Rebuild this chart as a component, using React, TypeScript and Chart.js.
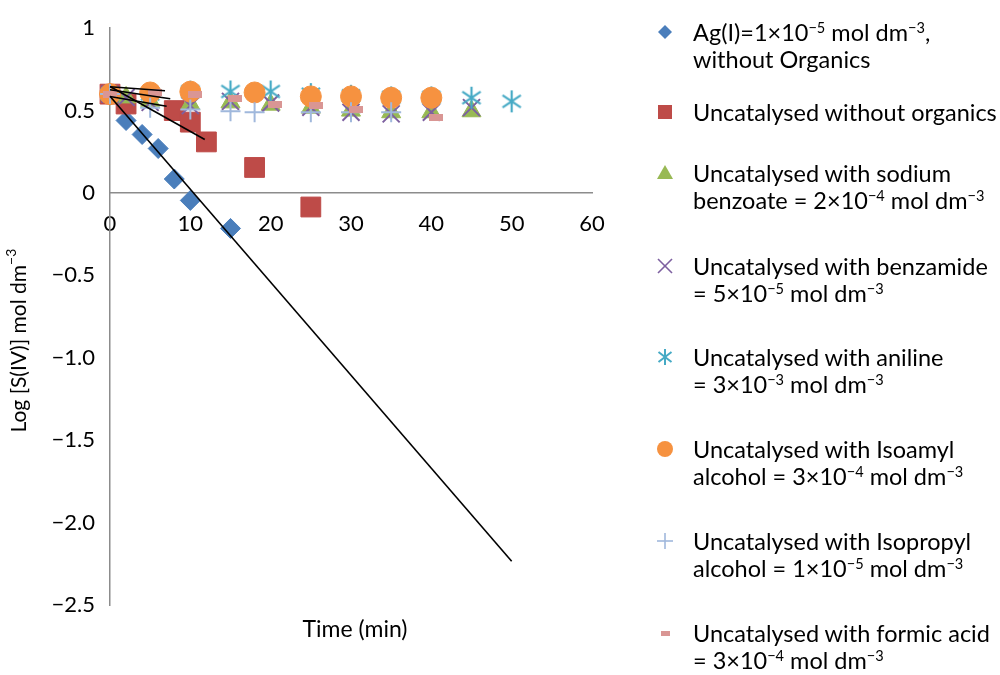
import React, { useEffect, useRef } from 'react';
import { Chart, registerables } from 'chart.js';

Chart.register(...registerables);

const FONT = 'Lato, "Open Sans", sans-serif';

// Axis ticks
const xTicks = [0, 10, 20, 30, 40, 50, 60];
const yTicks = [1, 0.5, 0, -0.5, -1, -1.5, -2, -2.5];
const yTickLabels = ['1', '0.5', '0', '−0.5', '−1.0', '−1.5', '−2.0', '−2.5'];
const xTitle = 'Time (min)';
const yTitleMain = 'Log [S(IV)] mol dm';
const yTitleSup = '−3';

// Series: Ag(I) catalysed, without organics
const agX = [0, 2, 4, 6, 8, 10, 15];
const agY = [0.6, 0.44, 0.355, 0.27, 0.085, -0.045, -0.215];
// Uncatalysed without organics
const uncX = [0, 2, 8, 10, 12, 18, 25];
const uncY = [0.6, 0.54, 0.5, 0.43, 0.31, 0.155, -0.085];
// Sodium benzoate
const sbX = [0, 2, 5, 10, 15, 20, 25, 30, 35, 40, 45];
const sbY = [0.6, 0.58, 0.56, 0.54, 0.55, 0.536, 0.518, 0.5, 0.49, 0.49, 0.496];
// Benzamide
const bzX = [0, 2, 5, 10, 15, 20, 25, 30, 35, 40, 45];
const bzY = [0.6, 0.58, 0.55, 0.53, 0.556, 0.546, 0.52, 0.49, 0.48, 0.49, 0.518];
// Aniline
const anX = [0, 5, 10, 15, 20, 25, 30, 35, 40, 45, 50];
const anY = [0.6, 0.6, 0.615, 0.616, 0.616, 0.6, 0.59, 0.58, 0.58, 0.578, 0.556];
// Isoamyl alcohol
const iaX = [0, 5, 10, 18, 25, 30, 35, 40];
const iaY = [0.6, 0.61, 0.615, 0.61, 0.586, 0.586, 0.578, 0.578];
// Isopropyl alcohol
const ipX = [0, 5, 10, 15, 18, 25, 30, 35];
const ipY = [0.6, 0.518, 0.506, 0.496, 0.49, 0.49, 0.49, 0.49];
// Formic acid
const faX = [0, 5.6, 10.6, 15.6, 20.6, 25.6, 30.6, 40.6];
const faY = [0.6, 0.61, 0.6, 0.572, 0.54, 0.53, 0.506, 0.458];

// Trend lines (start / end points)
const trendAgX = [0, 50];
const trendAgY = [0.587, -2.235];
const trendUncX = [0, 11.8];
const trendUncY = [0.646, 0.325];
const trendAX = [0, 6.85];
const trendAY = [0.645, 0.62];
const trendBX = [0, 7.5];
const trendBY = [0.627, 0.572];
const trendCX = [0, 7.05];
const trendCY = [0.586, 0.526];

const C = {
  blue: '#4A7EBB',
  red: '#BE4B48',
  green: '#98B954',
  purple: '#7D60A0',
  teal: '#46AAC5',
  orange: '#F69240',
  lightblue: '#A0B8DC',
  pink: '#D99694',
};

const TICK_SIZE = 22;
const LEGEND_SIZE = 23.5;

const pts = (xs: number[], ys: number[]) => xs.map((x, i) => ({ x, y: ys[i] }));

function makeAsterisk(color: string, size: number, lw: number) {
  const c = document.createElement('canvas');
  c.width = size;
  c.height = size;
  const g = c.getContext('2d')!;
  g.strokeStyle = color;
  g.lineWidth = lw;
  const h = size / 2;
  const r = size / 2 - 1;
  g.beginPath();
  g.moveTo(h, h - r);
  g.lineTo(h, h + r);
  const dx = r * Math.sin(Math.PI / 3.2);
  const dy = r * Math.cos(Math.PI / 3.2);
  g.moveTo(h - dx, h - dy);
  g.lineTo(h + dx, h + dy);
  g.moveTo(h + dx, h - dy);
  g.lineTo(h - dx, h + dy);
  g.stroke();
  return c;
}

function makeDash(color: string, w: number, hgt: number) {
  const c = document.createElement('canvas');
  c.width = w;
  c.height = hgt;
  const g = c.getContext('2d')!;
  g.fillStyle = color;
  g.fillRect(0, 0, w, hgt);
  return c;
}

const titlePlugin = {
  id: 'customTitles',
  afterDraw(chart: any) {
    const ctx = chart.ctx;
    const a = chart.chartArea;
    ctx.save();
    ctx.fillStyle = '#000';
    ctx.font = `23px ${FONT}`;
    ctx.textAlign = 'center';
    ctx.textBaseline = 'middle';
    ctx.fillText(xTitle, (a.left + a.right) / 2 + 4, a.bottom + 25);
    ctx.translate(19, (a.top + a.bottom) / 2 + 24);
    ctx.rotate(-Math.PI / 2);
    ctx.font = `21px ${FONT}`;
    const w1 = ctx.measureText(yTitleMain).width;
    ctx.font = `14px ${FONT}`;
    const w2 = ctx.measureText(yTitleSup).width;
    const start = -(w1 + w2) / 2;
    ctx.textAlign = 'left';
    ctx.font = `21px ${FONT}`;
    ctx.fillText(yTitleMain, start, 0);
    ctx.font = `14px ${FONT}`;
    ctx.fillText(yTitleSup, start + w1, -8);
    ctx.restore();
  },
};

const sup = (s: string) => (
  <sup style={{ fontSize: '0.62em', verticalAlign: '0.55em', lineHeight: 0 }}>{s}</sup>
);

type LegendItem = { top: number; marker: React.ReactNode; lines: React.ReactNode[] };

const S = 24;
const mk = (children: React.ReactNode) => (
  <svg width={S} height={S} viewBox="0 0 24 24">{children}</svg>
);

const legendItems: LegendItem[] = [
  {
    top: 19,
    marker: mk(<polygon points="12,5 19,12 12,19 5,12" fill={C.blue} />),
    lines: [
      <>Ag(I)=1×10{sup('−5')} mol dm{sup('−3')},</>,
      <>without Organics</>,
    ],
  },
  {
    top: 99,
    marker: mk(<rect x="5" y="5" width="14" height="14" fill={C.red} />),
    lines: [<>Uncatalysed without organics</>],
  },
  {
    top: 160,
    marker: mk(<polygon points="12,4 20,18 4,18" fill={C.green} />),
    lines: [
      <>Uncatalysed with sodium</>,
      <>benzoate = 2×10{sup('−4')} mol dm{sup('−3')}</>,
    ],
  },
  {
    top: 253,
    marker: mk(
      <g stroke={C.purple} strokeWidth="1.6">
        <line x1="5" y1="5" x2="19" y2="19" />
        <line x1="19" y1="5" x2="5" y2="19" />
      </g>
    ),
    lines: [
      <>Uncatalysed with benzamide</>,
      <>= 5×10{sup('−5')} mol dm{sup('−3')}</>,
    ],
  },
  {
    top: 344,
    marker: mk(
      <g stroke={C.teal} strokeWidth="2">
        <line x1="12" y1="4" x2="12" y2="20" />
        <line x1="5.5" y1="7" x2="18.5" y2="17" />
        <line x1="18.5" y1="7" x2="5.5" y2="17" />
      </g>
    ),
    lines: [
      <>Uncatalysed with aniline</>,
      <>= 3×10{sup('−3')} mol dm{sup('−3')}</>,
    ],
  },
  {
    top: 436,
    marker: mk(<circle cx="12" cy="12" r="8" fill={C.orange} />),
    lines: [
      <>Uncatalysed with Isoamyl</>,
      <>alcohol = 3×10{sup('−4')} mol dm{sup('−3')}</>,
    ],
  },
  {
    top: 528,
    marker: mk(
      <g stroke={C.lightblue} strokeWidth="1.6">
        <line x1="12" y1="4" x2="12" y2="20" />
        <line x1="4" y1="12" x2="20" y2="12" />
      </g>
    ),
    lines: [
      <>Uncatalysed with Isopropyl</>,
      <>alcohol = 1×10{sup('−5')} mol dm{sup('−3')}</>,
    ],
  },
  {
    top: 620,
    marker: mk(<rect x="8" y="10" width="9" height="5" fill={C.pink} />),
    lines: [
      <>Uncatalysed with formic acid</>,
      <>= 3×10{sup('−4')} mol dm{sup('−3')}</>,
    ],
  },
];

export default function App() {
  const ref = useRef<HTMLCanvasElement>(null);

  useEffect(() => {
    if (!ref.current) return;
    const asterisk = makeAsterisk(C.teal, 24, 2.2);
    const dash = makeDash(C.pink, 14, 7);

    const markerDs = (data: any, style: any, color: string, radius: number, order: number, extra: any = {}) => ({
      data,
      pointStyle: style,
      pointRadius: radius,
      backgroundColor: color,
      borderColor: color,
      pointBorderWidth: 1,
      showLine: false,
      clip: false,
      order,
      ...extra,
    });
    const trendDs = (xs: number[], ys: number[]) => ({
      data: pts(xs, ys),
      showLine: true,
      pointRadius: 0,
      borderColor: '#000',
      borderWidth: 1.6,
      clip: false,
      order: 0,
    });

    const chart = new Chart(ref.current, {
      type: 'scatter',
      data: {
        datasets: [
          markerDs(pts(agX, agY), 'rectRot', C.blue, 10, 8),
          markerDs(pts(uncX, uncY), 'rect', C.red, 14, 7),
          markerDs(pts(sbX, sbY), 'triangle', C.green, 11, 6),
          markerDs(pts(bzX, bzY), 'crossRot', C.purple, 12, 5, { pointBorderWidth: 2 }),
          markerDs(pts(anX, anY), asterisk, C.teal, 12, 4),
          markerDs(pts(iaX, iaY), 'circle', C.orange, 10.5, 3),
          markerDs(pts(ipX, ipY), 'cross', C.lightblue, 10, 2, { pointBorderWidth: 2 }),
          markerDs(pts(faX, faY), dash, C.pink, 7, 1),
          trendDs(trendAgX, trendAgY),
          trendDs(trendUncX, trendUncY),
          trendDs(trendAX, trendAY),
          trendDs(trendBX, trendBY),
          trendDs(trendCX, trendCY),
        ] as any,
      },
      options: {
        animation: false,
        responsive: false,
        devicePixelRatio: 1,
        layout: { padding: { left: 0, right: 408, top: 23, bottom: 70 } },
        plugins: { legend: { display: false }, tooltip: { enabled: false } },
        events: [],
        scales: {
          x: {
            type: 'linear',
            position: { y: 0 } as any,
            min: 0,
            max: 60,
            afterFit: (s: any) => {
              s.height = 0;
            },
            afterBuildTicks: (s: any) => {
              s.ticks = xTicks.map((v) => ({ value: v }));
            },
            grid: { display: false, drawTicks: false },
            border: { display: true, color: '#8C8C8C', width: 1.5 },
            ticks: {
              color: '#000',
              font: { family: FONT, size: TICK_SIZE },
              padding: 18,
              maxRotation: 0,
              autoSkip: false,
            },
          },
          y: {
            type: 'linear',
            position: 'left',
            min: -2.5,
            max: 1,
            afterFit: (s: any) => {
              s.width = 110;
            },
            afterBuildTicks: (s: any) => {
              s.ticks = yTicks.map((v) => ({ value: v }));
            },
            grid: { display: false, drawTicks: false },
            border: { display: true, color: '#8C8C8C', width: 1.5 },
            ticks: {
              color: '#000',
              font: { family: FONT, size: TICK_SIZE },
              padding: 15,
              autoSkip: false,
              callback: (v: any) => {
                const i = yTicks.findIndex((t) => Math.abs(t - Number(v)) < 1e-9);
                return i >= 0 ? yTickLabels[i] : '';
              },
            },
          },
        },
      },
      plugins: [titlePlugin],
    });
    return () => chart.destroy();
  }, []);

  return (
    <div style={{ position: 'absolute', left: 0, top: 0, width: 1000, height: 675, background: '#fff', fontFamily: FONT }}>
      <canvas ref={ref} width={1000} height={675} style={{ width: 1000, height: 675, display: 'block' }} />
      {legendItems.map((it, i) => (
        <div key={i} style={{ position: 'absolute', left: 0, top: it.top, width: 1000 }}>
          <div style={{ position: 'absolute', left: 653, top: 1 }}>{it.marker}</div>
          <div style={{ position: 'absolute', left: 693, top: 0, fontSize: LEGEND_SIZE, lineHeight: '27px', color: '#000', whiteSpace: 'nowrap' }}>
            {it.lines.map((l, j) => (
              <div key={j}>{l}</div>
            ))}
          </div>
        </div>
      ))}
    </div>
  );
}
